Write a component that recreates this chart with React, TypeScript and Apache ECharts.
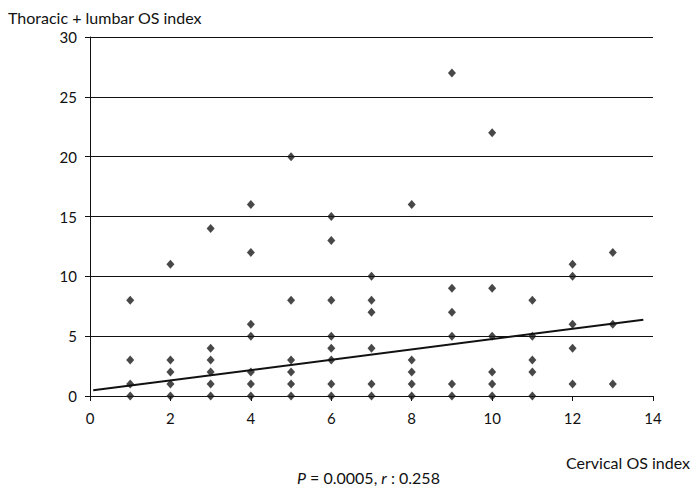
import React, { useEffect, useRef } from "react";
import * as echarts from "echarts";

const cervical = [
  1, 1, 1, 1,
  2, 2, 2, 2, 2,
  3, 3, 3, 3, 3, 3,
  4, 4, 4, 4, 4, 4, 4,
  5, 5, 5, 5, 5, 5,
  6, 6, 6, 6, 6, 6, 6, 6,
  7, 7, 7, 7, 7, 7,
  8, 8, 8, 8, 8,
  9, 9, 9, 9, 9, 9,
  10, 10, 10, 10, 10, 10,
  11, 11, 11, 11, 11,
  12, 12, 12, 12, 12,
  13, 13, 13,
];
const thoracicLumbar = [
  8, 3, 1, 0,
  11, 3, 2, 1, 0,
  14, 4, 3, 2, 1, 0,
  16, 12, 6, 5, 2, 1, 0,
  20, 8, 3, 2, 1, 0,
  15, 13, 8, 5, 4, 3, 1, 0,
  10, 8, 7, 4, 1, 0,
  16, 3, 2, 1, 0,
  27, 9, 7, 5, 1, 0,
  22, 9, 5, 2, 1, 0,
  8, 5, 3, 2, 0,
  11, 10, 6, 4, 1,
  12, 6, 1,
];
const trendX = [0.08, 13.76];
const trendY = [0.48, 6.37];
const xTicks = [0, 2, 4, 6, 8, 10, 12, 14];
const yTicks = [0, 5, 10, 15, 20, 25, 30];

const FONT = "Lato, 'Open Sans', sans-serif";

export default function App() {
  const ref = useRef<HTMLDivElement>(null);
  useEffect(() => {
    if (!ref.current) return;
    const chart = echarts.init(ref.current, null, { renderer: "svg" });
    const points = cervical.map((x, i) => [x, thoracicLumbar[i]]);
    const trend = trendX.map((x, i) => [x, trendY[i]]);
    chart.setOption({
      animation: false,
      backgroundColor: "#fff",
      grid: { left: 90, right: 42, top: 37, bottom: 90 },
      xAxis: {
        type: "value",
        min: xTicks[0],
        max: xTicks[xTicks.length - 1],
        interval: 2,
        axisLine: { show: true, lineStyle: { color: "#111", width: 1 } },
        axisTick: { show: true, length: 5, lineStyle: { color: "#111" } },
        splitLine: { show: false },
        axisLabel: { color: "#111", fontSize: 15, fontFamily: FONT, margin: 14 },
      },
      yAxis: {
        type: "value",
        min: yTicks[0],
        max: yTicks[yTicks.length - 1],
        interval: 5,
        axisLine: { show: true, lineStyle: { color: "#111", width: 1 } },
        axisTick: { show: true, length: 5, lineStyle: { color: "#111" } },
        splitLine: { show: true, lineStyle: { color: "#111", width: 1 } },
        axisLabel: { color: "#111", fontSize: 15, fontFamily: FONT, margin: 13 },
      },
      series: [
        {
          type: "scatter",
          data: points,
          symbol: "diamond",
          symbolSize: [8, 9],
          itemStyle: { color: "#1a1a1a" },
          z: 3,
        },
        {
          type: "line",
          data: trend,
          symbol: "none",
          lineStyle: { color: "#111", width: 2 },
          z: 4,
        },
      ],
      graphic: [
        {
          type: "text",
          left: 8,
          top: 9,
          style: { text: "Thoracic + lumbar OS index", fill: "#111", font: `16px ${FONT}` },
        },
        {
          type: "text",
          right: 5,
          top: 454,
          style: { text: "Cervical OS index", fill: "#111", font: `16px ${FONT}` },
        },
        {
          type: "text",
          left: 297,
          top: 469,
          style: {
            text: "{i|P} = 0.0005, {i|r} : 0.258",
            fill: "#111",
            font: `16px ${FONT}`,
            rich: {
              i: { fontStyle: "italic", fontSize: 16, fontFamily: FONT, fill: "#111" },
            },
          },
        },
      ],
    });
    return () => chart.dispose();
  }, []);
  return (
    <div
      ref={ref}
      style={{ position: "fixed", left: 0, top: 0, width: 695, height: 486 }}
    />
  );
}
